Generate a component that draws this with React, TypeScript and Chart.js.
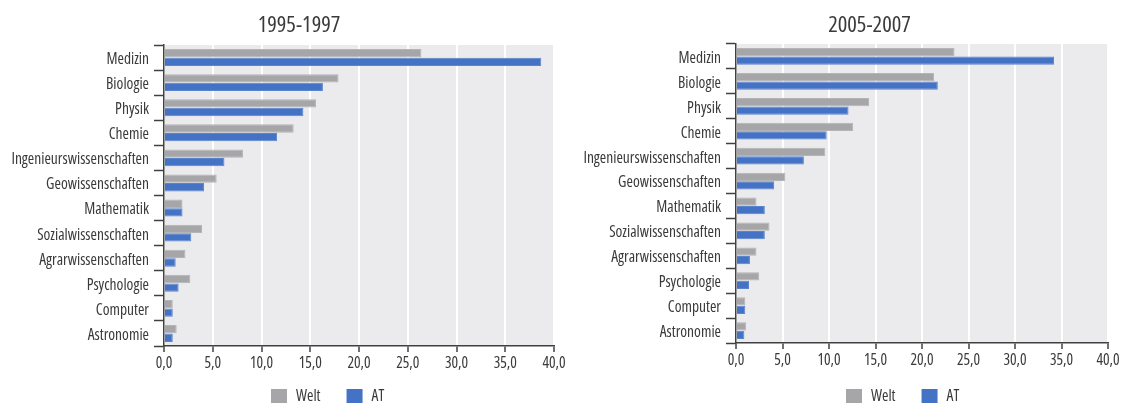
import React, { useEffect, useRef } from "react";
import { Chart, registerables } from "chart.js";

Chart.register(...registerables);

// ---------- data ----------
const categories = [
  "Medizin",
  "Biologie",
  "Physik",
  "Chemie",
  "Ingenieurswissenschaften",
  "Geowissenschaften",
  "Mathematik",
  "Sozialwissenschaften",
  "Agrarwissenschaften",
  "Psychologie",
  "Computer",
  "Astronomie",
];
const seriesNames = ["Welt", "AT"];
const titles = ["1995-1997", "2005-2007"];

const welt1995 = [26.4, 17.9, 15.6, 13.3, 8.1, 5.4, 1.9, 3.9, 2.2, 2.7, 0.9, 1.3];
const at1995 = [38.7, 16.3, 14.3, 11.6, 6.2, 4.1, 1.9, 2.8, 1.2, 1.5, 0.9, 0.9];
const welt2005 = [23.5, 21.3, 14.3, 12.6, 9.6, 5.3, 2.2, 3.6, 2.2, 2.5, 1.0, 1.1];
const at2005 = [34.2, 21.7, 12.1, 9.75, 7.3, 4.1, 3.1, 3.1, 1.5, 1.4, 1.0, 0.9];

const xMin = 0;
const xMax = 40;
const xStep = 5;

// ---------- style ----------
const FONT = "'Open Sans', 'Roboto Condensed', sans-serif";
const TEXT = "#3a3a3a";
const AXIS = "#404040";
const PLOT_BG = "#EBEBEE";
const COLORS = ["#A6A6A9", "#4472C4"];
const H = 403;
const LABEL_SIZE = 15.5;

type Panel = {
  title: string;
  welt: number[];
  at: number[];
  canvasLeft: number;
  canvasWidth: number;
  plotLeft: number;
  plotRight: number;
  plotTop: number;
  plotBottom: number;
  titleX: number;
  legendX: number;
};

const panels: Panel[] = [
  {
    title: titles[0],
    welt: welt1995,
    at: at1995,
    canvasLeft: 0,
    canvasWidth: 570,
    plotLeft: 164,
    plotRight: 554,
    plotTop: 45,
    plotBottom: 346,
    titleX: 299,
    legendX: 271,
  },
  {
    title: titles[1],
    welt: welt2005,
    at: at2005,
    canvasLeft: 570,
    canvasWidth: 553,
    plotLeft: 736,
    plotRight: 1108,
    plotTop: 44,
    plotBottom: 343,
    titleX: 869.5,
    legendX: 846,
  },
];

// make every font set on this context use the condensed width of the font
function condenseContext(canvas: HTMLCanvasElement) {
  const ctx = canvas.getContext("2d") as any;
  const desc = Object.getOwnPropertyDescriptor(CanvasRenderingContext2D.prototype, "font");
  if (!ctx || !desc || !desc.set || !desc.get) return;
  Object.defineProperty(ctx, "font", {
    configurable: true,
    get() {
      return desc.get!.call(this);
    },
    set(v: string) {
      desc.set!.call(this, v);
      try {
        this.fontStretch = "condensed";
      } catch (e) {
        /* ignore */
      }
    },
  });
}

const decorPlugin = {
  id: "decor",
  beforeDraw(chart: any) {
    const { ctx, chartArea } = chart;
    ctx.save();
    ctx.fillStyle = PLOT_BG;
    ctx.fillRect(
      chartArea.left,
      chartArea.top,
      chartArea.right - chartArea.left,
      chartArea.bottom - chartArea.top
    );
    ctx.restore();
  },
  afterDraw(chart: any, _args: any, opts: any) {
    const { ctx } = chart;
    ctx.save();
    // title
    ctx.font = `22.5px ${FONT}`;
    ctx.fillStyle = TEXT;
    ctx.textAlign = "center";
    ctx.textBaseline = "alphabetic";
    ctx.fillText(opts.title, opts.titleX, 32);
    // legend
    ctx.font = `${LABEL_SIZE}px ${FONT}`;
    ctx.textAlign = "left";
    let x = opts.legendX;
    chart.data.datasets.forEach((ds: any) => {
      ctx.fillStyle = ds.backgroundColor;
      ctx.fillRect(x, 389, 16, 16);
      ctx.fillStyle = TEXT;
      const tx = x + 16 + 9;
      ctx.fillText(ds.label, tx, 401);
      x = tx + ctx.measureText(ds.label).width + 26;
    });
    ctx.restore();
  },
};

function ChartPanel({ p }: { p: Panel }) {
  const ref = useRef<HTMLCanvasElement | null>(null);
  useEffect(() => {
    if (!ref.current) return;
    condenseContext(ref.current);
    const chart = new Chart(ref.current, {
      type: "bar",
      data: {
        labels: categories,
        datasets: [
          {
            label: seriesNames[0],
            data: p.welt,
            backgroundColor: COLORS[0],
            borderColor: "#B4B4B7",
            borderWidth: 1,
            categoryPercentage: 0.68,
            barPercentage: 0.98,
          },
          {
            label: seriesNames[1],
            data: p.at,
            backgroundColor: COLORS[1],
            borderColor: "#5A84CC",
            borderWidth: 1,
            categoryPercentage: 0.68,
            barPercentage: 0.98,
          },
        ],
      },
      options: {
        indexAxis: "y",
        animation: false,
        responsive: false,
        maintainAspectRatio: false,
        layout: {
          padding: {
            left: 0,
            top: p.plotTop,
            right: p.canvasLeft + p.canvasWidth - p.plotRight,
            bottom: 0,
          },
        },
        plugins: {
          legend: { display: false },
          title: { display: false },
          tooltip: { enabled: false },
          decor: {
            title: p.title,
            titleX: p.titleX - p.canvasLeft,
            legendX: p.legendX - p.canvasLeft,
          },
        } as any,
        scales: {
          x: {
            type: "linear",
            min: xMin,
            max: xMax,
            afterFit: (scale: any) => {
              scale.height = H - p.plotBottom;
            },
            ticks: {
              stepSize: xStep,
              color: TEXT,
              font: { family: FONT, size: LABEL_SIZE },
              padding: 2,
              callback: (v: any) => Number(v).toFixed(1).replace(".", ","),
            },
            grid: {
              color: "#FFFFFF",
              lineWidth: 2,
              drawOnChartArea: true,
              drawTicks: true,
              tickLength: 6,
              tickColor: AXIS,
              tickWidth: 1.5,
            },
            border: { display: true, color: AXIS, width: 1.5 },
          },
          y: {
            type: "category",
            afterFit: (scale: any) => {
              scale.width = p.plotLeft - p.canvasLeft;
            },
            ticks: {
              color: TEXT,
              font: { family: FONT, size: LABEL_SIZE },
              padding: 5,
              labelOffset: 2,
              autoSkip: false,
            },
            grid: {
              offset: true,
              drawOnChartArea: false,
              drawTicks: true,
              tickLength: 10,
              tickColor: AXIS,
              tickWidth: 1.5,
            },
            border: { display: true, color: AXIS, width: 1.5 },
          },
        },
      } as any,
      plugins: [decorPlugin],
    });
    return () => chart.destroy();
  }, [p]);
  return (
    <canvas
      ref={ref}
      width={p.canvasWidth}
      height={H}
      style={{ position: "absolute", left: p.canvasLeft, top: 0, width: p.canvasWidth, height: H }}
    />
  );
}

export default function App() {
  return (
    <div style={{ position: "absolute", left: 0, top: 0, width: 1123, height: H, background: "#fff" }}>
      {panels.map((p) => (
        <ChartPanel key={p.title} p={p} />
      ))}
    </div>
  );
}
